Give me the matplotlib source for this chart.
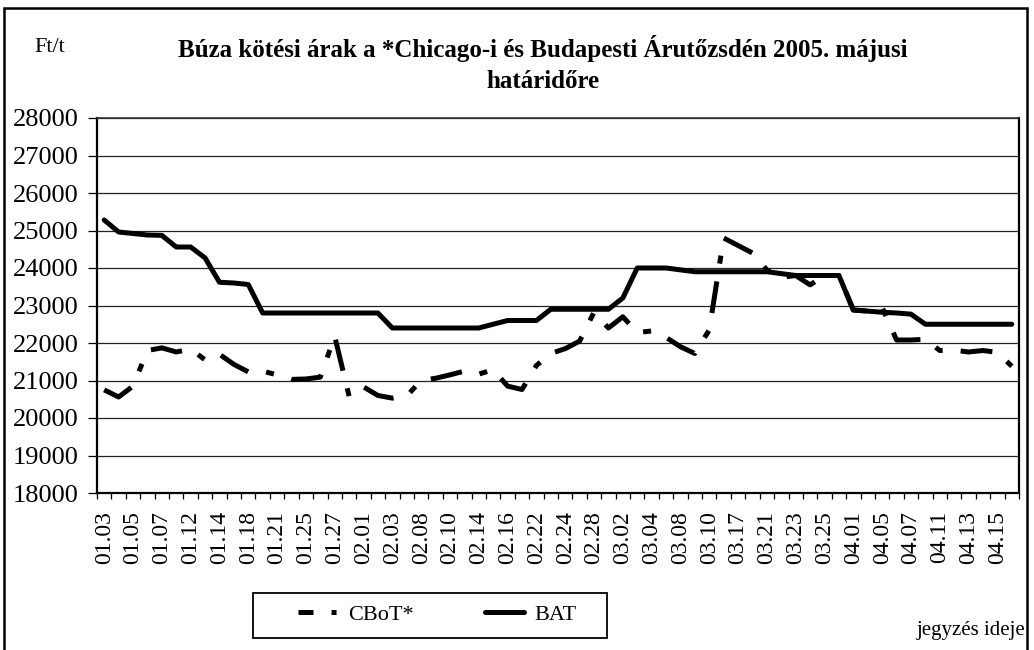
"""Wheat futures prices, Chicago vs Budapest, May 2005 delivery."""

import matplotlib
matplotlib.use('Agg')
import matplotlib.pyplot as plt
from matplotlib.lines import Line2D
from matplotlib.patches import Rectangle
import numpy as np


dates = [
    '01.03', '01.04', '01.05', '01.06', '01.07', '01.10', '01.12', '01.13',
    '01.14', '01.17', '01.18', '01.20', '01.21', '01.24', '01.25', '01.26',
    '01.27', '01.28', '02.01', '02.02', '02.03', '02.04', '02.08', '02.09',
    '02.10', '02.11', '02.14', '02.15', '02.16', '02.17', '02.22', '02.23',
    '02.24', '02.25', '02.28', '03.01', '03.02', '03.03', '03.04', '03.07',
    '03.08', '03.09', '03.10', '03.11', '03.17', '03.18', '03.21', '03.22',
    '03.23', '03.24', '03.25', '03.29', '04.01', '04.04', '04.05', '04.06',
    '04.07', '04.08', '04.11', '04.12', '04.13', '04.14', '04.15', '04.18',
]

cbot = [
    20750, 20560, 20850, 21800, 21870, 21760, 21840, 21550,
    21700, 21430, 21230, 21250, 21150, 21030, 21040, 21090,
    22180, 20580, 20830, 20600, 20530, 20590, 21000, 21060,
    21150, 21250, 21170, 21290, 20850, 20760, 21400, 21720,
    21850, 22050, 22820, 22400, 22700, 22280, 22320, 22150,
    21900, 21720, 22350, 24800, 24600, 24400, 23950, 23750,
    23800, 23550, 23800, 23800, 22880, 22850, 22950, 22080,
    22080, 22100, 21800, 21810, 21760, 21800, 21750, 21380,
]

bat = [
    25280, 24960, 24920, 24880, 24870, 24560, 24560, 24270,
    23620, 23600, 23560, 22800, 22800, 22800, 22800, 22800,
    22800, 22800, 22800, 22800, 22400, 22400, 22400, 22400,
    22400, 22400, 22400, 22500, 22600, 22600, 22600, 22900,
    22900, 22900, 22900, 22900, 23200, 24000, 24000, 24000,
    23950, 23900, 23900, 23900, 23900, 23900, 23900, 23850,
    23800, 23800, 23800, 23800, 22880, 22850, 22820, 22800,
    22770, 22500, 22500, 22500, 22500, 22500, 22500, 22500,
]

y_ticks = list(range(18000, 28001, 1000))

W, H = 1034, 650


def _fx(px):
    return px / W


def _fy(py):
    return 1 - py / H


def main():
    plt.rcParams['font.family'] = ['Liberation Serif', 'DejaVu Serif']
    plt.rcParams['lines.scale_dashes'] = False

    fig = plt.figure(figsize=(W / 100, H / 100), dpi=100)
    ax = fig.add_axes([_fx(97), _fy(493), _fx(1019 - 97), (493 - 118) / H])

    x = np.arange(len(dates))
    ax.plot(x, cbot, color='black', lw=3.6, dashes=(23, 13, 5.8, 13),
            dash_capstyle='butt', solid_joinstyle='round', zorder=3)
    ax.plot(x, bat, color='black', lw=3.6, solid_joinstyle='round',
            solid_capstyle='round', zorder=4)

    ax.set_xlim(-0.5, len(dates) - 0.5)
    ax.set_ylim(18000, 28000)

    # labels on every other day, tick marks between categories
    ax.set_xticks(x[::2])
    ax.set_xticklabels(dates[::2], rotation=90, fontsize=17)
    ax.set_xticks(np.arange(-0.5, len(dates), 1), minor=True)
    ax.tick_params(axis='x', which='major', length=0, pad=13)
    ax.tick_params(axis='x', which='minor', length=4.5, width=0.9,
                   direction='out')

    ax.set_yticks(y_ticks)
    ax.set_yticklabels([str(v) for v in y_ticks], fontsize=19)
    ax.tick_params(axis='y', length=6.5, width=0.9, direction='out', pad=7)

    ax.grid(axis='y', color='#222222', lw=0.9)
    ax.set_axisbelow(True)
    for side in ['left', 'bottom', 'right']:
        ax.spines[side].set_linewidth(1.6)
        ax.spines[side].set_color('black')
    ax.spines['top'].set_linewidth(1.2)
    ax.spines['top'].set_color('#333333')

    # titles and notes
    fig.text(_fx(543), _fy(64),
             'Búza kötési árak a *Chicago-i és Budapesti Árutőzsdén '
             '2005. májusi\nhatáridőre',
             ha='center', va='center', fontsize=18, fontweight='bold',
             linespacing=1.5, multialignment='center')
    fig.text(_fx(34), _fy(48), 'Ft/t', ha='left', va='center', fontsize=16)
    fig.text(_fx(917), _fy(631), 'jegyzés ideje', ha='left', va='center',
             fontsize=15)

    # legend with its own box
    handles = [
        Line2D([], [], color='black', lw=3.6, dashes=(10.8, 13, 3.6, 13),
               dash_capstyle='butt'),
        Line2D([], [], color='black', lw=3.6, solid_capstyle='round'),
    ]
    fig.legend(handles, ['CBoT*', 'BAT'], ncol=2, loc='center left',
               bbox_to_anchor=(_fx(298), _fy(615)), frameon=False,
               fontsize=16, handlelength=1.75, handletextpad=0.5,
               columnspacing=3.2, borderpad=0, borderaxespad=0)
    fig.patches.append(Rectangle((_fx(253), _fy(638)), _fx(354), 45 / H,
                                 transform=fig.transFigure, fill=False,
                                 edgecolor='black', lw=1.3))

    # outer frame of the chart object
    fig.patches.append(Rectangle((_fx(4), _fy(700)), _fx(1027 - 4),
                                 (700 - 8) / H, transform=fig.transFigure,
                                 fill=False, edgecolor='black', lw=1.8))

    fig.savefig('out.png', dpi=100)


if __name__ == '__main__':
    main()
